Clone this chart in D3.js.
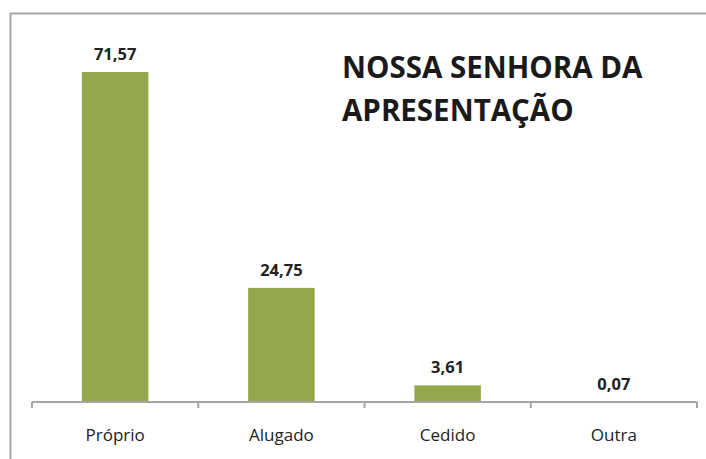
<!DOCTYPE html>
<html>
<head>
<meta charset="utf-8">
<script src="https://cdn.jsdelivr.net/npm/d3@7"></script>
<style>
  body { margin: 0; background: #fff; }
</style>
</head>
<body>
<div id="chart"></div>
<script>
// chart data
var categories = ["Próprio", "Alugado", "Cedido", "Outra"];
var values = [71.57, 24.75, 3.61, 0.07];
var valueLabels = ["71,57", "24,75", "3,61", "0,07"];
var titleLines = ["NOSSA SENHORA DA", "APRESENTAÇÃO"];

var W = 706, H = 459;
var margin = {top: 72, left: 32, right: 9, bottom: 57};
var width = W - margin.left - margin.right,
    height = H - margin.top - margin.bottom;

var svg = d3.select("#chart")
  .append("svg")
    .attr("width", W)
    .attr("height", H);

// outer frame (right and bottom run off the picture)
svg.append("rect")
  .attr("x", 10.5)
  .attr("y", 13.5)
  .attr("width", W + 20)
  .attr("height", H + 20)
  .attr("fill", "none")
  .attr("stroke", "#a6a6a6")
  .attr("stroke-width", 2);

var g = svg.append("g")
  .attr("transform", "translate(" + margin.left + "," + margin.top + ")");

var x = d3.scaleBand()
  .domain(categories)
  .range([0, width])
  .paddingInner(0.6)
  .paddingOuter(0.3);

var y = d3.scaleLinear()
  .domain([0, 71.57])
  .range([height, 0]);

// bars
g.selectAll(".bar")
  .data(values)
  .enter()
  .append("rect")
    .attr("class", "bar")
    .attr("x", function(d, i) { return x(categories[i]); })
    .attr("y", function(d) { return y(d); })
    .attr("width", x.bandwidth())
    .attr("height", function(d) { return height - y(d); })
    .attr("fill", "#94a84b");

// value labels
g.selectAll(".val")
  .data(values)
  .enter()
  .append("text")
    .attr("x", function(d, i) { return x(categories[i]) + x.bandwidth() / 2; })
    .attr("y", function(d) { return y(d) - 12; })
    .attr("text-anchor", "middle")
    .attr("font-family", "Open Sans, sans-serif")
    .attr("font-weight", "bold")
    .attr("font-size", 16.5)
    .attr("fill", "#222")
    .text(function(d, i) { return valueLabels[i]; });

// x axis with ticks at category boundaries
var step = x.step();
var axis = g.append("g").attr("transform", "translate(0," + height + ")");
axis.append("line")
  .attr("x1", 0).attr("x2", width)
  .attr("y1", 0).attr("y2", 0)
  .attr("stroke", "#a6a6a6")
  .attr("stroke-width", 2);
axis.selectAll(".tick")
  .data(d3.range(categories.length + 1))
  .enter()
  .append("line")
    .attr("x1", function(i) { return i * step; })
    .attr("x2", function(i) { return i * step; })
    .attr("y1", 0).attr("y2", 6)
    .attr("stroke", "#a6a6a6")
    .attr("stroke-width", 2);
axis.selectAll(".lbl")
  .data(categories)
  .enter()
  .append("text")
    .attr("x", function(d) { return x(d) + x.bandwidth() / 2; })
    .attr("y", 39)
    .attr("text-anchor", "middle")
    .attr("font-family", "Open Sans, sans-serif")
    .attr("font-size", 17)
    .attr("fill", "#222")
    .text(function(d) { return d; });

// title
svg.append("g")
  .selectAll("text")
  .data(titleLines)
  .enter()
  .append("text")
    .attr("x", 342)
    .attr("y", function(d, i) { return 78 + i * 43; })
    .attr("font-family", "Open Sans, sans-serif")
    .attr("font-weight", "bold")
    .attr("font-size", 29.5)
    .attr("fill", "#1a1a1a")
    .text(function(d) { return d; });
</script>
</body>
</html>
